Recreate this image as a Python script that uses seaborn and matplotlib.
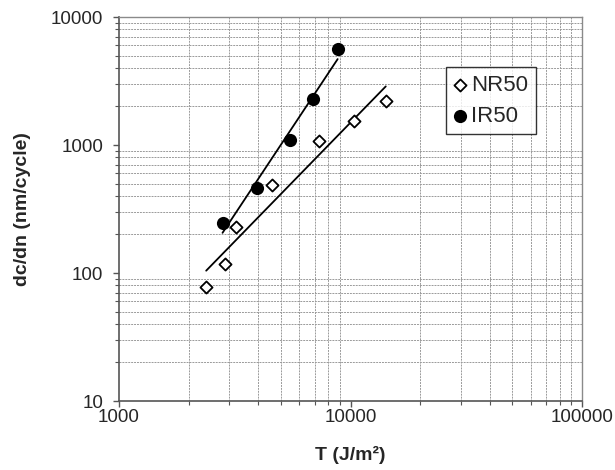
#!/usr/bin/env python3
"""
Crack growth rate vs tearing energy, log-log plot with power-law trend lines
"""

import numpy as np
import pandas as pd
import matplotlib
matplotlib.use("Agg")
import matplotlib.pyplot as plt
import matplotlib.ticker as mticker
import seaborn as sns

# Data
nr50_T = [2380, 2880, 3200, 4600, 7300, 10400, 14200]
nr50_rate = [78, 118, 230, 490, 1080, 1550, 2200]

ir50_T = [2800, 3950, 5500, 6900, 8800]
ir50_rate = [245, 460, 1100, 2300, 5600]

series_names = ["NR50", "IR50"]
x_ticks = [1000, 10000, 100000]
y_ticks = [10, 100, 1000, 10000]


def power_fit(x, y):
    """Power-law trend line (least squares in log space) over the data range."""
    lx, ly = np.log10(x), np.log10(y)
    slope, icpt = np.polyfit(lx, ly, 1)
    xs = np.array([min(x), max(x)])
    return xs, 10 ** (icpt + slope * np.log10(xs))


def main():
    sns.set_style("white")
    plt.rcParams["font.family"] = ["Liberation Sans", "DejaVu Sans"]

    df = pd.concat([
        pd.DataFrame({"T": nr50_T, "rate": nr50_rate, "series": series_names[0]}),
        pd.DataFrame({"T": ir50_T, "rate": ir50_rate, "series": series_names[1]}),
    ])

    fig = plt.figure(figsize=(6.15, 4.70), dpi=100)
    ax = fig.add_axes([119 / 615, 1 - 401 / 470, 463 / 615, 384 / 470])
    ax.set_xscale("log")
    ax.set_yscale("log")

    # trend lines
    for xs, ys in [(nr50_T, nr50_rate), (ir50_T, ir50_rate)]:
        fx, fy = power_fit(xs, ys)
        sns.lineplot(x=fx, y=fy, ax=ax, color="black", lw=1.3,
                     estimator=None, legend=False, zorder=3)

    # points
    sns.scatterplot(data=df[df.series == "NR50"], x="T", y="rate", ax=ax,
                    marker="D", s=38, facecolor="white", edgecolor="black",
                    linewidth=1.3, label="NR50", zorder=4)
    sns.scatterplot(data=df[df.series == "IR50"], x="T", y="rate", ax=ax,
                    marker="o", s=90, color="black", edgecolor="black",
                    linewidth=0, label="IR50", zorder=4)

    ax.set_xlim(1000, 100000)
    ax.set_ylim(10, 10000)
    ax.set_xticks(x_ticks)
    ax.set_yticks(y_ticks)
    fmt = mticker.FuncFormatter(lambda v, _: f"{v:g}")
    ax.xaxis.set_major_formatter(fmt)
    ax.yaxis.set_major_formatter(fmt)
    ax.xaxis.set_minor_locator(mticker.LogLocator(10, subs=np.arange(2, 10)))
    ax.yaxis.set_minor_locator(mticker.LogLocator(10, subs=np.arange(2, 10)))
    ax.xaxis.set_minor_formatter(mticker.NullFormatter())
    ax.yaxis.set_minor_formatter(mticker.NullFormatter())

    ax.grid(False)
    ax.grid(True, which="minor", color="#9a9a9a", linestyle=(0, (2, 1)), lw=0.7)
    ax.set_axisbelow(True)

    ax.tick_params(which="major", direction="out", length=4.5, width=1,
                   color="#555555", labelsize=13.5,
                   bottom=True, left=True)
    ax.tick_params(which="minor", direction="out", length=3, width=0.8,
                   color="#555555", bottom=True, left=True)
    ax.tick_params(axis="y", which="major", pad=7)
    ax.tick_params(axis="x", which="major", pad=1.5)

    for side in ["left", "bottom"]:
        ax.spines[side].set_color("#555555")
        ax.spines[side].set_linewidth(1.2)
    for side in ["top", "right"]:
        ax.spines[side].set_color("#8a8a8a")
        ax.spines[side].set_linewidth(1.0)

    ax.set_xlabel("T (J/m²)", fontsize=14, fontweight="bold", labelpad=14)
    ax.set_ylabel("dc/dn (nm/cycle)", fontsize=14, fontweight="bold", labelpad=14)

    leg = ax.legend(loc="upper left", bbox_to_anchor=(0.706, 0.870),
                    borderaxespad=0, fontsize=16, frameon=True, fancybox=False,
                    handlelength=0.6, handletextpad=0.2, labelspacing=0.45,
                    borderpad=0.35, markerscale=1.0)
    leg.get_frame().set_edgecolor("black")
    leg.get_frame().set_linewidth(1.0)

    fig.savefig("out.png", dpi=100)
    plt.close(fig)


if __name__ == "__main__":
    main()
